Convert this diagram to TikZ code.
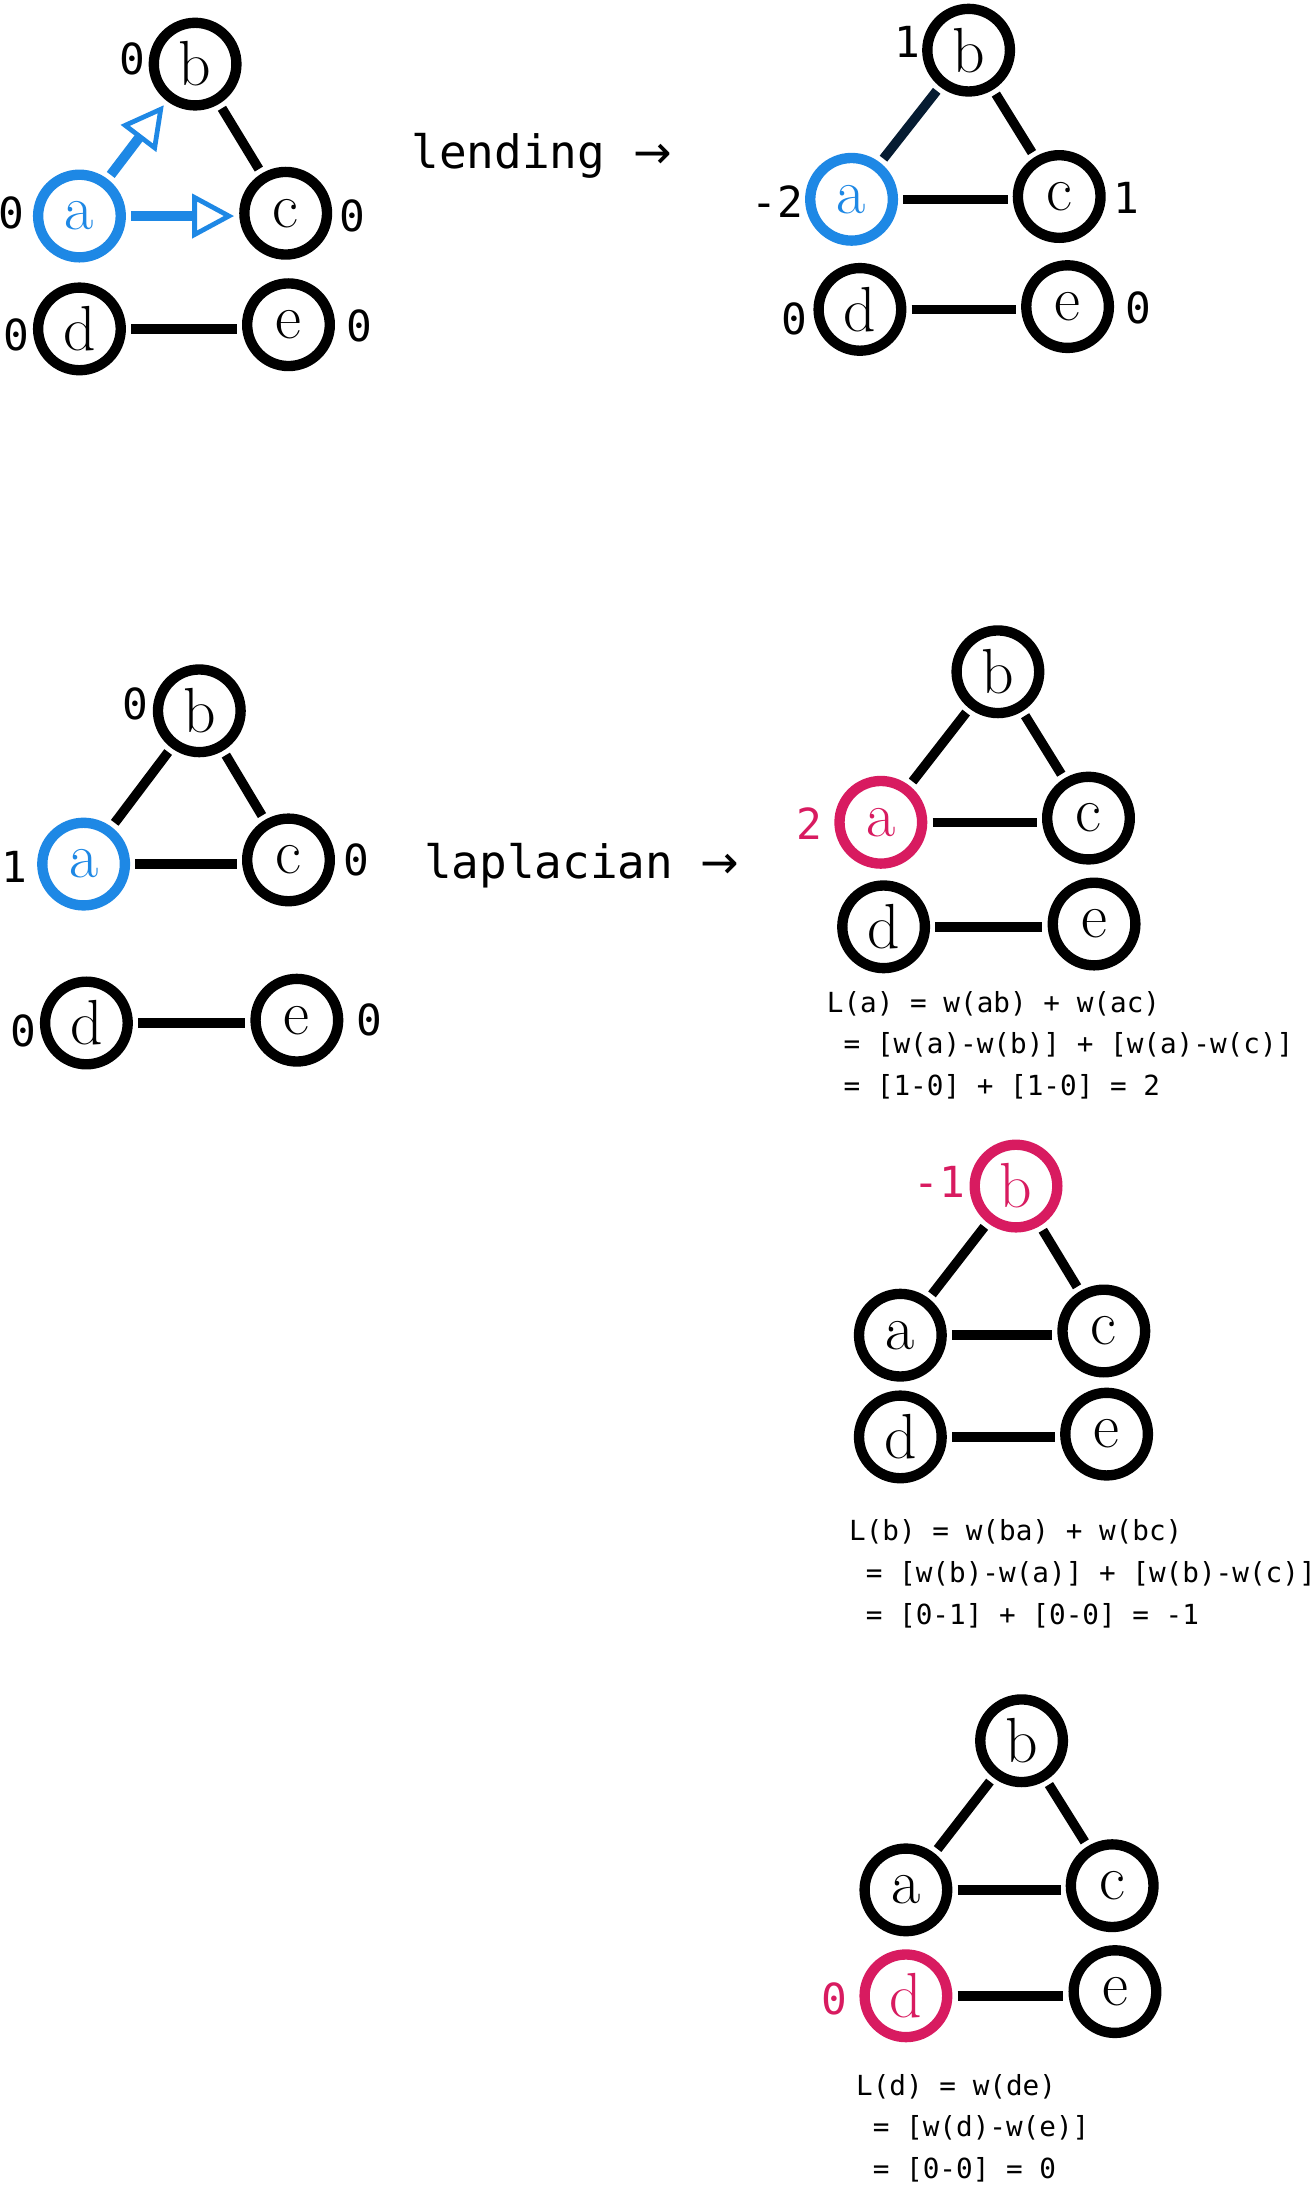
\documentclass[tikz,border=0pt]{standalone}
\usepackage{fontspec}
\setmonofont{DejaVu Sans Mono}
\newfontfamily\arrowfont{DejaVu Sans}
\usetikzlibrary{arrows.meta}
\definecolor{hlblue}{RGB}{30,136,229}
\definecolor{hlpink}{RGB}{216,27,96}
\definecolor{navyedge}{RGB}{6,28,50}
\begin{document}
\begin{tikzpicture}[x=0.7pt,y=-0.7pt,
  vtx/.style={circle,draw=black,line width=5.2pt,minimum size=41.5pt,inner sep=0pt,fill=white,font=\fontsize{32}{32}\selectfont},
  bluevtx/.style={vtx,draw=hlblue,text=hlblue},
  pinkvtx/.style={vtx,draw=hlpink,text=hlpink},
  edge/.style={line width=4.8pt,shorten <=2.6pt,shorten >=2.6pt},
  lendarrow/.style={draw=hlblue,line width=5pt,shorten <=2.6pt,shorten >=2.6pt,-{Triangle[open,length=21pt,width=22pt,line width=2.4pt]}},
  wlab/.style={font=\ttfamily\fontsize{21.5}{21.5}\selectfont,inner sep=0pt},
  pinklab/.style={wlab,text=hlpink},
  caption/.style={font=\ttfamily\fontsize{23.1}{23.1}\selectfont,inner sep=0pt,anchor=west},
  formula/.style={font=\ttfamily\fontsize{13.9}{13.9}\selectfont,inner sep=0pt,anchor=west},
]
\useasboundingbox (0,0) rectangle (942.8,1569.2);

% ---------- top-left: lending ----------
\node[vtx] (tlb) at (140,46) {b};
\node[bluevtx] (tla) at (57,155) {a};
\node[vtx] (tlc) at (205,153) {c};
\node[vtx] (tld) at (57,236) {d};
\node[vtx] (tle) at (207,233) {e};
\draw[edge] (tlb) -- (tlc);
\draw[edge] (tld.east) -- (tld.east -| tle.west);
\draw[lendarrow] (tla) -- (tlb);
\draw[lendarrow] (tla.east) -- (tla.east -| tlc.west);
\node[wlab] (tlwb) at (95,42) {0};
\node[wlab] (tlwa) at (8,153) {0};
\node[wlab] (tlwc) at (253,155) {0};
\node[wlab] (tlwd) at (12,240) {0};
\node[wlab] (tlwe) at (258,234) {0};
\node[caption] (lend) at (295,112) {lending {\arrowfont →}};

% ---------- top-right: after lending ----------
\node[vtx] (trb) at (695,36) {b};
\node[bluevtx] (tra) at (611,143) {a};
\node[vtx] (trc) at (760,141) {c};
\node[vtx] (trd) at (617,222) {d};
\node[vtx] (tre) at (766,220) {e};
\draw[edge,navyedge] (tra) -- (trb);
\draw[edge] (trb) -- (trc);
\draw[edge] (tra.east) -- (tra.east -| trc.west);
\draw[edge] (trd.east) -- (trd.east -| tre.west);
\node[wlab] (trwb) at (651,30) {1};
\node[wlab] (trwa) at (558,145) {-2};
\node[wlab] (trwc) at (808,142) {1};
\node[wlab] (trwd) at (570,229) {0};
\node[wlab] (trwe) at (817,221) {0};

% ---------- middle-left: laplacian ----------
\node[vtx] (mlb) at (143,510) {b};
\node[bluevtx] (mla) at (60,620) {a};
\node[vtx] (mlc) at (207,617) {c};
\node[vtx] (mld) at (62,734) {d};
\node[vtx] (mle) at (213,732) {e};
\draw[edge] (mla) -- (mlb);
\draw[edge] (mlb) -- (mlc);
\draw[edge] (mla.east) -- (mla.east -| mlc.west);
\draw[edge] (mld.east) -- (mld.east -| mle.west);
\node[wlab] (mlwb) at (97,505) {0};
\node[wlab] (mlwa) at (10,622) {1};
\node[wlab] (mlwc) at (256,617) {0};
\node[wlab] (mlwd) at (17,740) {0};
\node[wlab] (mlwe) at (265,732) {0};
\node[caption] (lap) at (304,621) {laplacian {\arrowfont →}};

% ---------- right 1: L(a) ----------
\node[vtx] (r1b) at (716,482) {b};
\node[pinkvtx] (r1a) at (632,590) {a};
\node[vtx] (r1c) at (781,587) {c};
\node[vtx] (r1d) at (634,665) {d};
\node[vtx] (r1e) at (785,663) {e};
\draw[edge] (r1a) -- (r1b);
\draw[edge] (r1b) -- (r1c);
\draw[edge] (r1a.east) -- (r1a.east -| r1c.west);
\draw[edge] (r1d.east) -- (r1d.east -| r1e.west);
\node[pinklab] (r1wa) at (581,591) {2};
\node[formula] (r1f1) at (593,720) {L(a) = w(ab) + w(ac)};
\node[formula] (r1f2) at (593,750) {\hphantom{L}= [w(a)-w(b)] + [w(a)-w(c)]};
\node[formula] (r1f3) at (593,780) {\hphantom{L}= [1-0] + [1-0] = 2};

% ---------- right 2: L(b) ----------
\node[pinkvtx] (r2b) at (729,851) {b};
\node[vtx] (r2a) at (646,958) {a};
\node[vtx] (r2c) at (792,955) {c};
\node[vtx] (r2d) at (646,1031) {d};
\node[vtx] (r2e) at (794,1029) {e};
\draw[edge] (r2a) -- (r2b);
\draw[edge] (r2b) -- (r2c);
\draw[edge] (r2a.east) -- (r2a.east -| r2c.west);
\draw[edge] (r2d.east) -- (r2d.east -| r2e.west);
\node[pinklab] (r2wb) at (674,848) {-1};
\node[formula] (r2f1) at (609,1099) {L(b) = w(ba) + w(bc)};
\node[formula] (r2f2) at (609,1129) {\hphantom{L}= [w(b)-w(a)] + [w(b)-w(c)]};
\node[formula] (r2f3) at (609,1159) {\hphantom{L}= [0-1] + [0-0] = -1};

% ---------- right 3: L(d) ----------
\node[vtx] (r3b) at (733,1249) {b};
\node[vtx] (r3a) at (650,1356) {a};
\node[vtx] (r3c) at (798,1353) {c};
\node[pinkvtx] (r3d) at (650,1432) {d};
\node[vtx] (r3e) at (800,1429) {e};
\draw[edge] (r3a) -- (r3b);
\draw[edge] (r3b) -- (r3c);
\draw[edge] (r3a.east) -- (r3a.east -| r3c.west);
\draw[edge] (r3d.east) -- (r3d.east -| r3e.west);
\node[pinklab] (r3wd) at (599,1434) {0};
\node[formula] (r3f1) at (614,1497) {L(d) = w(de)};
\node[formula] (r3f2) at (614,1527) {\hphantom{L}= [w(d)-w(e)]};
\node[formula] (r3f3) at (614,1557) {\hphantom{L}= [0-0] = 0};
\end{tikzpicture}
\end{document}
